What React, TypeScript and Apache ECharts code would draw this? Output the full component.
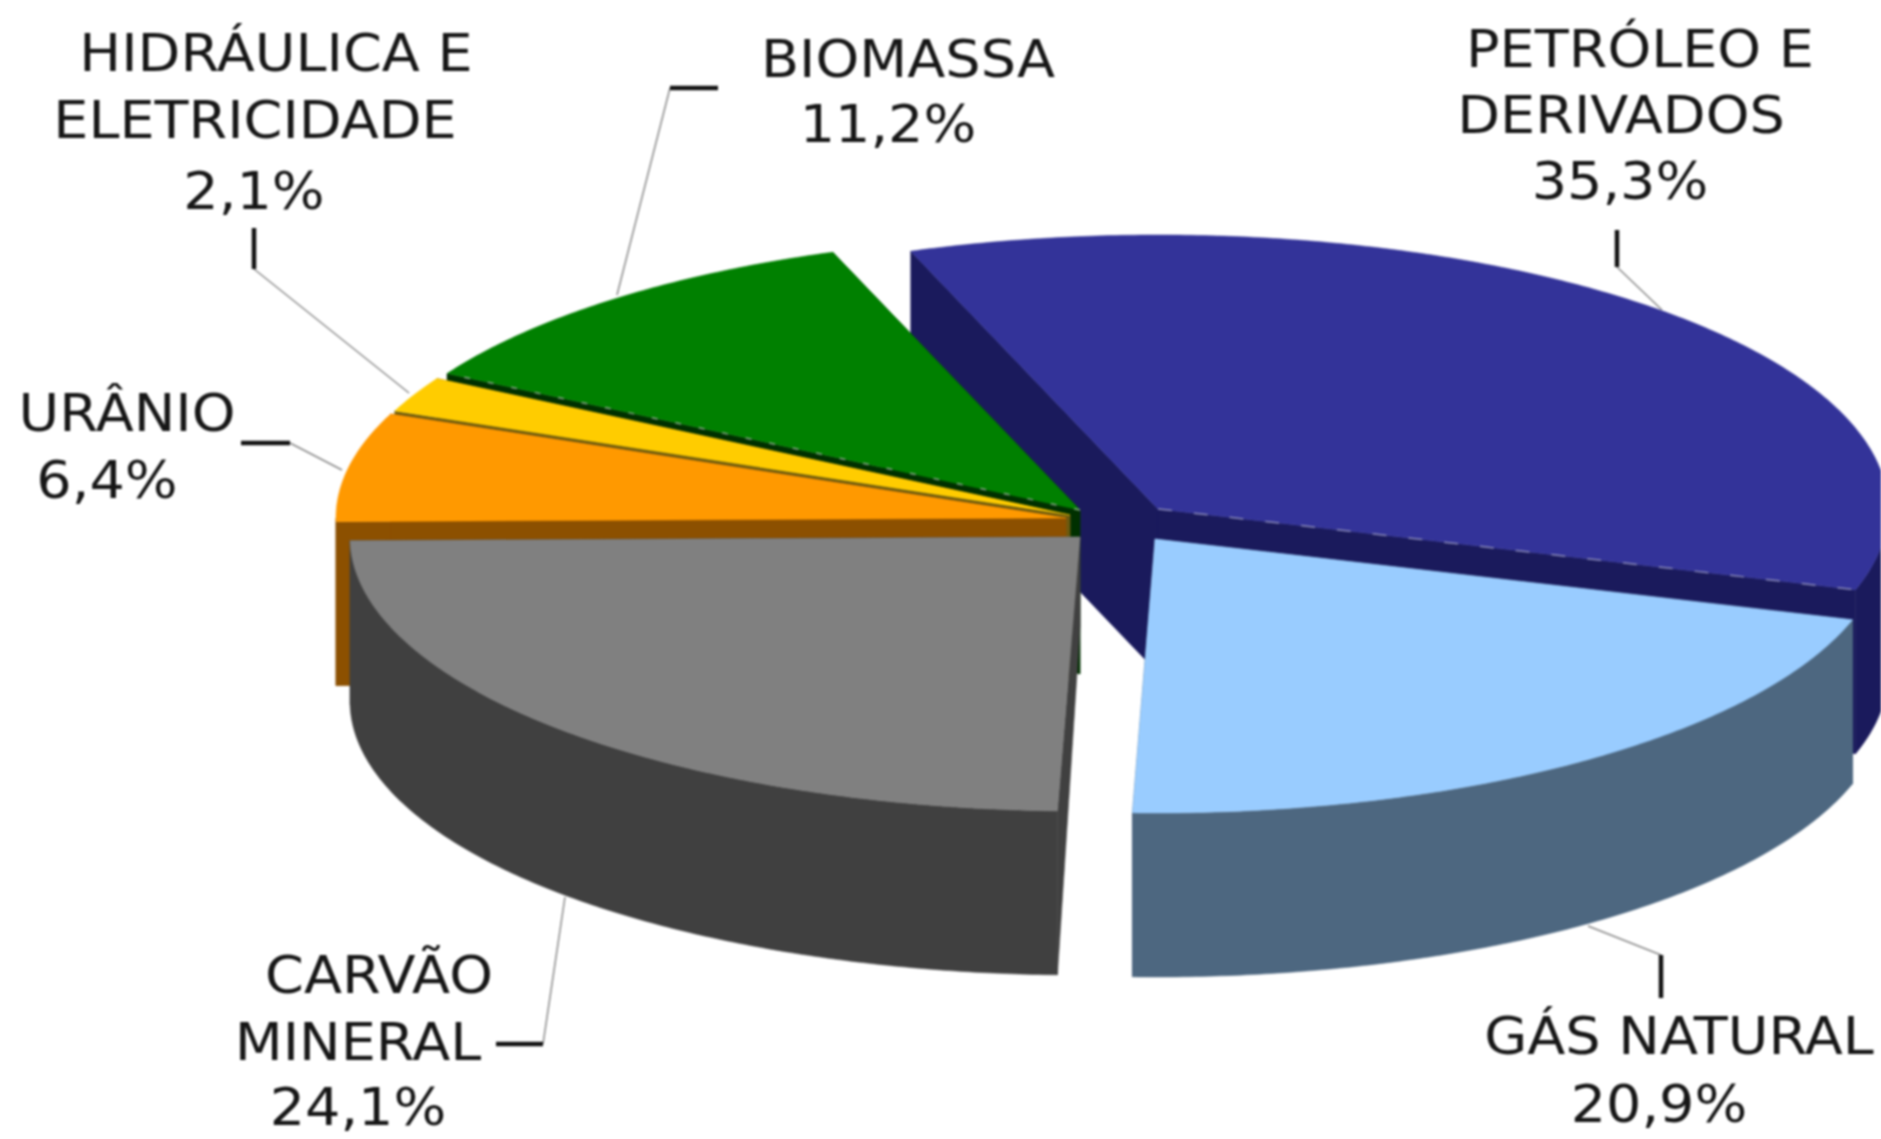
import React, { useEffect, useRef } from "react";
import * as echarts from "echarts";

// Clockwise from the first slice
const categories = ["PETRÓLEO E DERIVADOS", "GÁS NATURAL", "CARVÃO MINERAL", "URÂNIO", "HIDRÁULICA E ELETRICIDADE", "BIOMASSA"];
const shares = [35.3, 20.9, 24.1, 6.4, 2.1, 11.2];
const topColors = ["#333399", "#99ccff", "#808080", "#ff9900", "#ffcc00", "#008000"];
const sideColors = ["#1a1a5c", "#4d6780", "#404040", "#8c5000", "#6b5a10", "#003000"];
const paintRank = [0, 1, 5, 4, 3, 2];
const sliceCentersX = [1158, 1155, 1080, 1066, 1070, 1080];
const sliceCentersY = [509, 539, 537, 518, 515, 510];
const cutDepthFactors = [1, 1, 0.55, 1, 1, 1];

const RX = 730;
const RY = 274;
const DEPTH = 164;
const FIRST_ANGLE = -19.8;
const FRONT_WARP = 0.75;

const pct = (v: number) => v.toFixed(1).replace(".", ",") + "%";
const total = shares.reduce((a, b) => a + b, 0);
const startAngles: number[] = [];
shares.reduce((acc, v, i) => {
  startAngles[i] = acc;
  return acc + (v / total) * 360;
}, FIRST_ANGLE);

// The reference's perspective squeezes the angles slightly at the front of the pie
function pt(cx: number, cy: number, deg: number, dy = 0): number[] {
  const raw = (deg * Math.PI) / 180;
  const warped = deg - FRONT_WARP * Math.pow((1 - Math.cos(raw)) / 2, 4);
  const r = (warped * Math.PI) / 180;
  return [cx + RX * Math.sin(r), cy - RY * Math.cos(r) + dy];
}
function arc(cx: number, cy: number, a: number, b: number, dy = 0): number[][] {
  const n = Math.max(2, Math.ceil(Math.abs(b - a) * 2));
  const out: number[][] = [];
  for (let i = 0; i <= n; i++) out.push(pt(cx, cy, a + ((b - a) * i) / n, dy));
  return out;
}

function renderItem(params: any, api: any) {
  const i = params.dataIndex;
  const share = api.value(0);
  const a0 = startAngles[i];
  const a1 = a0 + (share / total) * 360;
  const cx = sliceCentersX[i];
  const cy = sliceCentersY[i];
  const z = paintRank[i] * 10;
  const side = sideColors[i];
  const top = topColors[i];
  const apexDrop = DEPTH * cutDepthFactors[i];
  const kids: any[] = [];
  const poly = (points: number[][], fill: string, zz: number) => ({
    type: "polygon",
    z2: z + zz,
    shape: { points },
    style: { fill, stroke: fill, lineWidth: 0.5 },
  });
  const s0 = pt(cx, cy, a0);
  const s1 = pt(cx, cy, a1);
  kids.push(poly([[cx, cy], s0, [s0[0], s0[1] + DEPTH], [cx, cy + apexDrop]], side, 0));
  kids.push(poly([[cx, cy], s1, [s1[0], s1[1] + DEPTH], [cx, cy + apexDrop]], side, 1));
  const w0 = Math.max(a0, 90);
  const w1 = Math.min(a1, 270);
  if (w1 > w0) {
    const upper = arc(cx, cy, w0, w1);
    const lower = arc(cx, cy, w1, w0, DEPTH);
    kids.push(poly(upper.concat(lower), side, 2));
  }
  kids.push(poly([[cx, cy]].concat(arc(cx, cy, a0, a1)), top, 3));
  const seam = (from: number[], color: string, w: number, dash?: number[]) => ({
    type: "polyline",
    z2: z + 4,
    shape: { points: [[cx, cy], from] },
    style: { fill: "none", stroke: color, lineWidth: w, lineDash: dash },
  });
  if (i === 5) {
    kids.push(seam(s0, "#8aa88a", 1.5, [6, 18]));
  }
  if (i === 0) {
    kids.push(seam(s1, "#8a8ab8", 1.5, [14, 22]));
  }
  return { type: "group", children: kids };
}

// Label lines: [text, centre x, centre y]
const labelLines: [string, number, number][] = [
  ["HIDRÁULICA E", 276, 53],
  ["ELETRICIDADE", 255, 120],
  [pct(shares[4]), 254, 191],
  ["BIOMASSA", 908, 59],
  [pct(shares[5]), 888, 124],
  ["PETRÓLEO E", 1640, 49],
  ["DERIVADOS", 1621, 115],
  [pct(shares[0]), 1620, 181],
  ["URÂNIO", 127, 413],
  [pct(shares[3]), 107, 480],
  ["CARVÃO", 379, 975],
  ["MINERAL", 358, 1042],
  [pct(shares[2]), 358, 1107],
  ["GÁS NATURAL", 1679, 1036],
  [pct(shares[1]), 1659, 1104],
];
const tickLines = [
  [254, 228, 254, 269],
  [670, 88, 718, 88],
  [241, 443, 290, 443],
  [1617, 230, 1617, 267],
  [1661, 955, 1661, 998],
  [496, 1044, 543, 1044],
];
const leaderLines = [
  [254, 269, 409, 393],
  [670, 88, 617, 295],
  [290, 443, 342, 470],
  [1617, 267, 1662, 310],
  [1661, 955, 1588, 926],
  [543, 1044, 565, 897],
];

export default function App() {
  const ref = useRef<HTMLDivElement>(null);
  useEffect(() => {
    const chart = echarts.init(ref.current!, undefined, { renderer: "svg" });
    const graphic: any[] = [];
    leaderLines.forEach(([x1, y1, x2, y2]) =>
      graphic.push({ type: "line", z: 1, shape: { x1, y1, x2, y2 }, style: { stroke: "#8a8a8a", lineWidth: 1.5 } })
    );
    tickLines.forEach(([x1, y1, x2, y2]) =>
      graphic.push({ type: "line", z: 1, shape: { x1, y1, x2, y2 }, style: { stroke: "#111111", lineWidth: 4.5 } })
    );
    labelLines.forEach(([text, x, y]) =>
      graphic.push({
        type: "text",
        z: 5,
        x,
        y,
        scaleX: 1.07,
        style: {
          text,
          fill: "#161616",
          font: '52px "DejaVu Sans"',
          align: "center",
          verticalAlign: "middle",
        },
      })
    );
    chart.setOption({
      animation: false,
      backgroundColor: "#ffffff",
      graphic,
      series: [
        {
          type: "custom",
          coordinateSystem: "none",
          renderItem,
          clip: false,
          silent: true,
          z: 2,
          data: categories.map((name, i) => ({ name, value: [shares[i]] })),
        },
      ],
    });
    return () => chart.dispose();
  }, []);
  return (
    <div
      ref={ref}
      style={{ position: "fixed", left: 0, top: 0, width: 1881, height: 1139, filter: "blur(0.8px)" }}
    />
  );
}
